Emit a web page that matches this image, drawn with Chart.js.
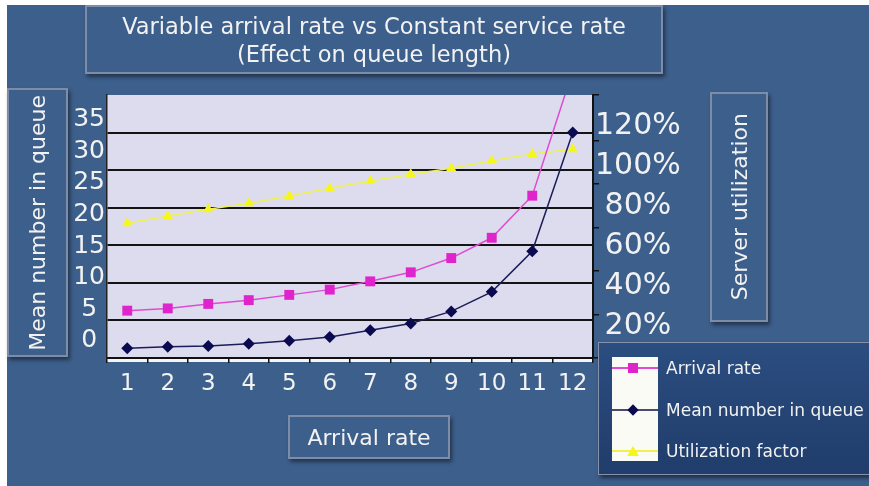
<!DOCTYPE html>
<html>
<head>
<meta charset="utf-8">
<script src="https://cdn.jsdelivr.net/npm/chart.js@4.4.0/dist/chart.umd.min.js"></script>
<style>
  body { margin: 0; background: #fff; }
  #page { position: relative; width: 869px; height: 486px; overflow: hidden;
          font-family: "DejaVu Sans", Verdana, sans-serif; color: #f2f2f2; }
  #bg { position: absolute; left: 7px; top: 5px; right: 0; bottom: 0; background: #3d5f8c; }
  canvas { position: absolute; left: 0; top: 0; }
  .box { position: absolute; box-sizing: border-box; border: 2px solid #7e8da7;
         background: #3d5f8c; box-shadow: 2px 3px 4px rgba(0, 0, 0, 0.45);
         display: flex; align-items: center; justify-content: center; text-align: center; }
  .vert { writing-mode: vertical-rl; transform: rotate(180deg); white-space: nowrap; }
  #title { left: 85px; top: 5px; width: 578px; height: 69px; font-size: 22.5px; line-height: 28px; }
  #ytitle { left: 7px; top: 88px; width: 61px; height: 269px; font-size: 22px; }
  #y1title { left: 710px; top: 92px; width: 58px; height: 230px; font-size: 22px; }
  #xtitle { left: 288px; top: 415px; width: 162px; height: 44px; font-size: 22px; }
  #legend { position: absolute; left: 598px; top: 342px; width: 290px; height: 133px; box-sizing: border-box;
            border: 1px solid #8592aa; background: linear-gradient(#2b4d80, #203d6b);
            box-shadow: 2px 3px 4px rgba(0, 0, 0, 0.5); }
  #swatches { position: absolute; left: 13px; top: 14px; width: 46px; height: 104px; background: #fbfbf6; }
  .row { position: absolute; left: 0; width: 280px; height: 24px; }
  .row .line { position: absolute; left: 13px; width: 46px; top: 11px; height: 2px; }
  .row .mark { position: absolute; }
  .row .txt { position: absolute; left: 67px; top: 0; line-height: 24px; font-size: 17px; white-space: nowrap; }
</style>
</head>
<body>
<div id="page">
  <div id="bg"></div>
  <canvas id="myChart" width="869" height="486"></canvas>
  <div class="box" id="title"><div>Variable arrival rate vs Constant service rate<br>(Effect on queue length)</div></div>
  <div class="box" id="ytitle"><span class="vert">Mean number in queue</span></div>
  <div class="box" id="y1title"><span class="vert">Server utilization</span></div>
  <div class="box" id="xtitle"><span>Arrival rate</span></div>
  <div id="legend"><div id="swatches"></div></div>
</div>
<script>
// Chart data
const labels = ["1", "2", "3", "4", "5", "6", "7", "8", "9", "10", "11", "12"];
const arrivalRate = [6.3, 6.6, 7.2, 7.7, 8.4, 9.1, 10.2, 11.4, 13.3, 16.0, 21.6, 38.2];
const meanInQueue = [1.3, 1.5, 1.6, 1.9, 2.3, 2.8, 3.7, 4.6, 6.2, 8.8, 14.2, 30.0];
const utilization = [62.0, 65.3, 68.4, 71.2, 74.5, 78.1, 81.4, 84.5, 87.3, 90.8, 93.9, 96.0];

const seriesNames = ["Arrival rate", "Mean number in queue", "Utilization factor"];
const leftTickLabels = [0, 5, 10, 15, 20, 25, 30, 35];
const rightTickLabels = [20, 40, 60, 80, 100, 120];

const white = "#f2f2f2";
const font = "'DejaVu Sans', Verdana, sans-serif";

// plot background + the light strip under the x axis
const plotBackground = {
  id: "plotBackground",
  beforeDraw(chart) {
    const { ctx, chartArea: a } = chart;
    ctx.save();
    ctx.fillStyle = "#dcdcee";
    ctx.fillRect(a.left, a.top, a.right - a.left, a.bottom - a.top);
    ctx.fillStyle = "#f4f4f4";
    ctx.fillRect(a.left, a.bottom + 1, a.right - a.left, 3);
    ctx.restore();
  },
};

const ctx = document.querySelector("#myChart").getContext("2d");
const myChart = new Chart(ctx, {
  type: "line",
  data: {
    labels: labels,
    datasets: [
      {
        label: seriesNames[0],
        data: arrivalRate,
        yAxisID: "y",
        borderColor: "#e04ad2",
        backgroundColor: "#e024cc",
        borderWidth: 1.5,
        pointStyle: "rect",
        pointRadius: 7,
        pointBorderWidth: 0,
        tension: 0,
      },
      {
        label: seriesNames[1],
        data: meanInQueue,
        yAxisID: "y",
        borderColor: "#1c1c58",
        backgroundColor: "#0a0a50",
        borderWidth: 1.5,
        pointStyle: "rectRot",
        pointRadius: 6,
        pointBorderWidth: 0,
        tension: 0,
      },
      {
        label: seriesNames[2],
        data: utilization,
        yAxisID: "y1",
        borderColor: "#f0f050",
        backgroundColor: "#f6f61c",
        borderWidth: 1.5,
        pointStyle: "triangle",
        pointRadius: 6,
        pointBorderWidth: 0,
        tension: 0,
      },
    ],
  },
  options: {
    responsive: false,
    animation: false,
    devicePixelRatio: 1,
    layout: { padding: { left: 72, right: 186, top: 95, bottom: 88 } },
    plugins: { legend: { display: false }, tooltip: { enabled: false } },
    scales: {
      x: {
        type: "category",
        offset: true,
        grid: { offset: true, drawOnChartArea: false, drawTicks: true, tickLength: 5, color: "#111", lineWidth: 1.5 },
        border: { color: "#111", width: 2 },
        ticks: { color: white, font: { family: font, size: 23 }, padding: 7, maxRotation: 0, autoSkip: false },
        afterFit: (s) => { s.height = 40; },
      },
      // real left axis: 0..35, gridlines only
      y: {
        position: "left",
        weight: 0,
        min: 0,
        max: 35,
        ticks: { display: false, stepSize: 5 },
        grid: {
          drawTicks: false,
          lineWidth: 2,
          color: (c) => (c.tick && (c.tick.value === 35 || c.tick.value === 0) ? "rgba(0,0,0,0)" : "#141414"),
        },
        border: { color: "#222", width: 1.5 },
        afterFit: (s) => { s.width = 0; },
      },
      // left tick text (sits loosely, as in the picture)
      yLbl: {
        position: "left",
        weight: 1,
        min: -2.69,
        max: 38.87,
        grid: { display: false, drawTicks: false },
        border: { display: false },
        ticks: {
          stepSize: 5,
          includeBounds: false,
          color: white,
          padding: 2,
          crossAlign: "center",
          font: { family: font, size: 25 },
          callback: (v) => (leftTickLabels.includes(v) ? String(v) : null),
        },
        afterFit: (s) => { s.width = 35; },
      },
      // real right axis: 0..120 %
      y1: {
        position: "right",
        weight: 0,
        min: 0,
        max: 121,
        ticks: { display: false, stepSize: 20 },
        grid: { drawOnChartArea: false, drawTicks: true, tickLength: 6, color: "#111", lineWidth: 1.5 },
        border: { color: "#111", width: 2 },
        afterFit: (s) => { s.width = 0; },
      },
      y1Lbl: {
        position: "right",
        weight: 1,
        min: 3.9,
        max: 135.4,
        grid: { display: false, drawTicks: false },
        border: { display: false },
        ticks: {
          stepSize: 20,
          includeBounds: false,
          color: white,
          padding: 2,
          crossAlign: "center",
          font: { family: font, size: 30 },
          callback: (v) => (rightTickLabels.includes(v) ? v + "%" : null),
        },
        afterFit: (s) => { s.width = 90; },
      },
    },
  },
  plugins: [plotBackground],
});

// Legend box built from the datasets
const legend = document.querySelector("#legend");
const marks = [
  { w: 10, h: 10, css: "background:#e024cc;" },
  { w: 8, h: 8, css: "background:#0a0a50;transform:rotate(45deg);" },
  { w: 0, h: 0, css: "border-left:6px solid transparent;border-right:6px solid transparent;border-bottom:10px solid #f6f61c;" },
];
const lineColors = ["#e04ad2", "#4a4a70", "#f0f050"];
seriesNames.forEach((name, i) => {
  const row = document.createElement("div");
  row.className = "row";
  row.style.top = 13 + i * 41.5 + "px";
  const line = document.createElement("div");
  line.className = "line";
  line.style.background = lineColors[i];
  const mark = document.createElement("div");
  mark.className = "mark";
  const mw = i === 2 ? 12 : marks[i].w;
  const mh = i === 2 ? 10 : marks[i].h;
  mark.style.cssText = marks[i].css + "width:" + marks[i].w + "px;height:" + marks[i].h + "px;left:" + (34 - mw / 2) + "px;top:" + (12 - mh / 2) + "px;";
  const txt = document.createElement("div");
  txt.className = "txt";
  txt.textContent = name;
  row.appendChild(line);
  row.appendChild(mark);
  row.appendChild(txt);
  legend.appendChild(row);
});
</script>
</body>
</html>
